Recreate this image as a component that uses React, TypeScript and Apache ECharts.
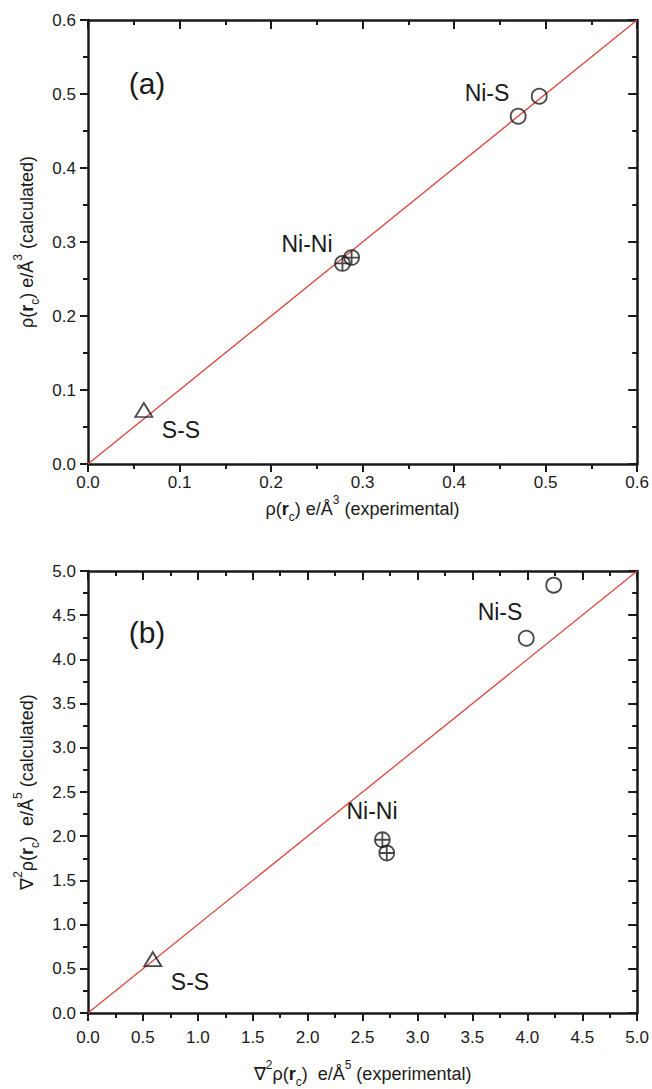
import React, { useEffect, useRef } from "react";
import * as echarts from "echarts";

// ---- data (panel a) ----
const niS_a = [[0.470, 0.470], [0.493, 0.497]];
const niNi_a = [[0.278, 0.271], [0.288, 0.279]];
const ss_a = [[0.061, 0.073]];
const diag_a = [[0, 0], [0.6, 0.6]];
// ---- data (panel b) ----
const niS_b = [[3.99, 4.24], [4.24, 4.84]];
const niNi_b = [[2.68, 1.96], [2.72, 1.81]];
const ss_b = [[0.59, 0.61]];
const diag_b = [[0, 0], [5, 5]];

const rangeA = { min: 0, max: 0.6, interval: 0.1 };
const rangeB = { min: 0, max: 5, interval: 0.5 };

const FONT = "'Liberation Sans', Arial, sans-serif";
const INK = "#1a1a1a";
const CROSS = "path://M50,0 A50,50 0 1,1 50,100 A50,50 0 1,1 50,0 Z M0,50 L100,50 M50,0 L50,100";

const NS = 18;
const rich = {
  n: { fontSize: NS, fontFamily: FONT, color: INK, lineHeight: 26, verticalAlign: "bottom" as const },
  b: { fontSize: NS, fontFamily: FONT, color: INK, fontWeight: "bold" as const, lineHeight: 26, verticalAlign: "bottom" as const },
  sub: { fontSize: 12, fontFamily: FONT, color: INK, lineHeight: 26, verticalAlign: "bottom" as const, padding: [0, 0, -5, 0] },
  sup: { fontSize: 12, fontFamily: FONT, color: INK, lineHeight: 26, verticalAlign: "top" as const, padding: [2, 0, 0, 0] },
};

function axisPair(gridIndex: number, r: { min: number; max: number; interval: number }, isX: boolean, name: string, nameGap: number, labelMargin: number) {
  const common = {
    type: "value" as const,
    gridIndex,
    min: r.min,
    max: r.max,
    interval: r.interval,
    splitLine: { show: false },
    axisLine: { show: true, onZero: false, lineStyle: { color: INK, width: 2.5 } },
    minorSplitLine: { show: false },
  };
  const main = {
    ...common,
    position: isX ? "bottom" : "left",
    axisTick: { show: true, inside: false, length: 8, lineStyle: { color: INK, width: 2 } },
    minorTick: { show: true, splitNumber: 2, length: 5, lineStyle: { color: INK, width: 2 } },
    axisLabel: {
      show: true,
      fontSize: 17,
      fontFamily: FONT,
      color: INK,
      margin: labelMargin,
      formatter: (v: number) => v.toFixed(1),
    },
    name,
    nameLocation: "middle",
    nameGap,
    nameRotate: isX ? 0 : 90,
    nameTextStyle: { rich, fontSize: NS, fontFamily: FONT, color: INK },
  };
  const mirror = {
    ...common,
    position: isX ? "top" : "right",
    axisTick: { show: true, inside: true, length: 9, lineStyle: { color: INK, width: 2 } },
    minorTick: { show: true, splitNumber: 2, length: 5, lineStyle: { color: INK, width: 2 } },
    axisLabel: { show: false },
  };
  return [main, mirror];
}

function scatter(data: number[][], idx: number, symbol: string, size: number | number[]) {
  return {
    type: "scatter",
    xAxisIndex: idx,
    yAxisIndex: idx,
    data,
    symbol,
    symbolSize: size,
    itemStyle: { color: "rgba(0,0,0,0)", borderColor: INK, borderWidth: 1.8 },
    z: 5,
  };
}

function diag(data: number[][], idx: number) {
  return {
    type: "line",
    xAxisIndex: idx,
    yAxisIndex: idx,
    data,
    symbol: "none",
    lineStyle: { color: "#d8463c", width: 1.3 },
    z: 3,
  };
}

function label(text: string, x: number, y: number, size: number) {
  return {
    type: "text",
    x,
    y,
    style: { text, fontSize: size, fontFamily: FONT, fill: INK, align: "center", verticalAlign: "middle" },
  };
}

export default function App() {
  const ref = useRef<HTMLDivElement>(null);
  useEffect(() => {
    if (!ref.current) return;
    const chart = echarts.init(ref.current, undefined, { renderer: "svg" });
    const [xA, xA2] = axisPair(0, rangeA, true, "{n|ρ(}{b|r}{sub|c}{n|) e/Å}{sup|3}{n| (experimental)}", 22, 10);
    const [yA, yA2] = axisPair(0, rangeA, false, "{n|ρ(}{b|r}{sub|c}{n|) e/Å}{sup|3}{n| (calculated)}", 44, 12);
    const [xB, xB2] = axisPair(1, rangeB, true, "{n|∇}{sup|2}{n|ρ(}{b|r}{sub|c}{n|)  e/Å}{sup|5}{n| (experimental)}", 44, 16);
    const [yB, yB2] = axisPair(1, rangeB, false, "{n|∇}{sup|2}{n|ρ(}{b|r}{sub|c}{n|)  e/Å}{sup|5}{n| (calculated)}", 46, 12);
    chart.setOption({
      animation: false,
      backgroundColor: "#ffffff",
      grid: [
        { left: 88, top: 20, width: 550, height: 444 },
        { left: 88, top: 571, width: 550, height: 446 },
      ],
      xAxis: [xA, xB, xA2, xB2],
      yAxis: [yA, yB, yA2, yB2],
      series: [
        diag(diag_a, 0),
        scatter(niS_a, 0, "circle", 15),
        scatter(niNi_a, 0, CROSS, 15),
        scatter(ss_a, 0, "triangle", [17, 14]),
        { ...diag(diag_b, 1), xAxisIndex: 1, yAxisIndex: 1 },
        scatter(niS_b, 1, "circle", 15),
        scatter(niNi_b, 1, CROSS, 15),
        scatter(ss_b, 1, "triangle", [17, 14]),
      ],
      graphic: [
        label("(a)", 147, 83, 30),
        label("Ni-S", 487, 93, 23),
        label("Ni-Ni", 307, 244, 23),
        label("S-S", 181, 430, 23),
        label("(b)", 147, 632, 30),
        label("Ni-S", 500, 612, 23),
        label("Ni-Ni", 372, 811, 23),
        label("S-S", 190, 982, 23),
      ],
    });
    return () => chart.dispose();
  }, []);
  return <div ref={ref} style={{ position: "absolute", left: 0, top: 0, width: 652, height: 1089 }} />;
}
